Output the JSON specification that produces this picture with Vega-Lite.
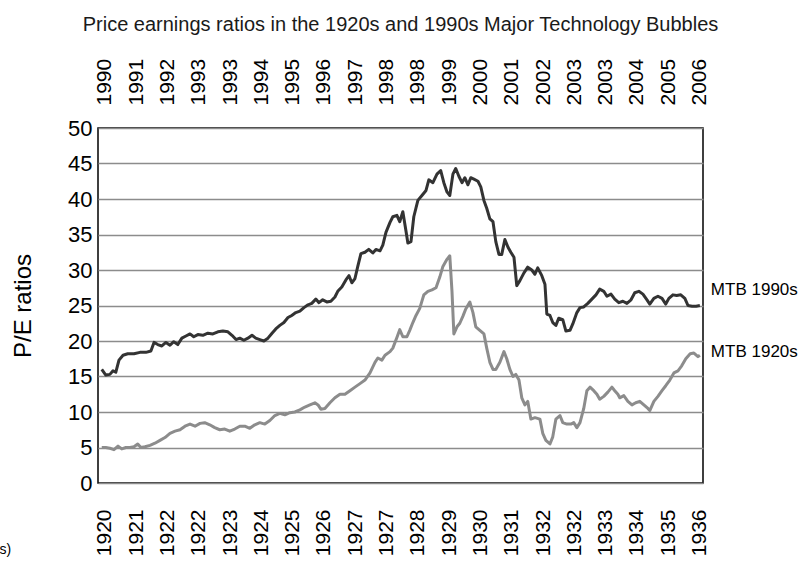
{
  "$schema": "https://vega.github.io/schema/vega-lite/v6.json",
  "width": 605,
  "height": 355,
  "autosize": {"type": "none"},
  "padding": {"left": 98, "top": 128, "right": 98, "bottom": 78},
  "background": "white",
  "title": {"text": "Price earnings ratios in the 1920s and 1990s Major Technology Bubbles", "font": "Liberation Sans", "fontSize": 20, "fontWeight": "normal", "color": "#1a1a1a", "anchor": "middle", "offset": 23},
  "config": {
    "view": {"stroke": "black", "strokeWidth": 1.5},
    "axis": {"ticks": false, "domain": false, "labelColor": "black", "titleColor": "black"}
  },
  "datasets": {
    "d1990": [
      {"m": -1.0, "pe": 16}, {"m": 0.3, "pe": 15.2}, {"m": 1.6, "pe": 15.3}, {"m": 2.6, "pe": 15.8}, {"m": 3.5, "pe": 15.6}, {"m": 4.5, "pe": 17.3}, {"m": 5.8, "pe": 18}, {"m": 7.3, "pe": 18.2}, {"m": 9.3, "pe": 18.2}, {"m": 11.2, "pe": 18.4}, {"m": 13.1, "pe": 18.4}, {"m": 14.7, "pe": 18.6}, {"m": 15.7, "pe": 19.8}, {"m": 16.9, "pe": 19.5}, {"m": 18.2, "pe": 19.3}, {"m": 19.5, "pe": 19.8}, {"m": 20.8, "pe": 19.4}, {"m": 22.0, "pe": 19.9}, {"m": 23.3, "pe": 19.5}, {"m": 24.6, "pe": 20.4}, {"m": 25.9, "pe": 20.7}, {"m": 27.2, "pe": 21}, {"m": 28.4, "pe": 20.6}, {"m": 29.7, "pe": 20.9}, {"m": 31.3, "pe": 20.8}, {"m": 32.9, "pe": 21.1}, {"m": 34.5, "pe": 21}, {"m": 36.1, "pe": 21.3}, {"m": 37.7, "pe": 21.4}, {"m": 39.3, "pe": 21.3}, {"m": 40.6, "pe": 20.8}, {"m": 41.9, "pe": 20.2}, {"m": 43.1, "pe": 20.4}, {"m": 44.4, "pe": 20.1}, {"m": 45.7, "pe": 20.4}, {"m": 47.0, "pe": 20.8}, {"m": 48.2, "pe": 20.4}, {"m": 49.5, "pe": 20.2}, {"m": 50.8, "pe": 20}, {"m": 52.1, "pe": 20.4}, {"m": 53.4, "pe": 21.1}, {"m": 54.6, "pe": 21.7}, {"m": 55.9, "pe": 22.2}, {"m": 57.2, "pe": 22.6}, {"m": 58.5, "pe": 23.3}, {"m": 59.7, "pe": 23.6}, {"m": 61.0, "pe": 24}, {"m": 62.3, "pe": 24.2}, {"m": 63.6, "pe": 24.7}, {"m": 64.9, "pe": 25.1}, {"m": 66.1, "pe": 25.3}, {"m": 67.4, "pe": 25.9}, {"m": 68.4, "pe": 25.4}, {"m": 69.6, "pe": 25.8}, {"m": 70.9, "pe": 25.5}, {"m": 72.2, "pe": 25.6}, {"m": 73.5, "pe": 26.2}, {"m": 74.4, "pe": 27}, {"m": 75.7, "pe": 27.6}, {"m": 77.0, "pe": 28.6}, {"m": 78.0, "pe": 29.2}, {"m": 78.9, "pe": 28.2}, {"m": 79.9, "pe": 28.8}, {"m": 80.8, "pe": 30.5}, {"m": 81.8, "pe": 32.3}, {"m": 83.1, "pe": 32.5}, {"m": 84.3, "pe": 32.9}, {"m": 85.6, "pe": 32.4}, {"m": 86.6, "pe": 32.9}, {"m": 87.9, "pe": 32.7}, {"m": 88.8, "pe": 33.5}, {"m": 89.8, "pe": 35.3}, {"m": 91.1, "pe": 36.7}, {"m": 92.0, "pe": 37.5}, {"m": 93.3, "pe": 37.7}, {"m": 94.2, "pe": 36.8}, {"m": 95.2, "pe": 38.2}, {"m": 96.2, "pe": 35.5}, {"m": 96.8, "pe": 33.8}, {"m": 97.8, "pe": 34}, {"m": 98.7, "pe": 37.5}, {"m": 100.0, "pe": 39.8}, {"m": 101.3, "pe": 40.5}, {"m": 102.6, "pe": 41.2}, {"m": 103.5, "pe": 42.7}, {"m": 104.8, "pe": 42.3}, {"m": 106.1, "pe": 43.5}, {"m": 107.3, "pe": 44}, {"m": 108.3, "pe": 42.3}, {"m": 109.3, "pe": 41}, {"m": 110.2, "pe": 40.5}, {"m": 111.2, "pe": 43.5}, {"m": 112.1, "pe": 44.3}, {"m": 113.1, "pe": 43.2}, {"m": 114.1, "pe": 42.3}, {"m": 115.0, "pe": 43}, {"m": 116.0, "pe": 42}, {"m": 116.9, "pe": 43}, {"m": 117.9, "pe": 42.8}, {"m": 119.2, "pe": 42.5}, {"m": 120.1, "pe": 41.7}, {"m": 121.1, "pe": 39.8}, {"m": 122.0, "pe": 38.7}, {"m": 123.0, "pe": 37.2}, {"m": 124.0, "pe": 36.8}, {"m": 124.9, "pe": 34}, {"m": 125.9, "pe": 32.2}, {"m": 126.8, "pe": 32.2}, {"m": 127.8, "pe": 34.3}, {"m": 128.8, "pe": 33.2}, {"m": 129.7, "pe": 32.5}, {"m": 130.7, "pe": 31.8}, {"m": 131.6, "pe": 27.8}, {"m": 132.6, "pe": 28.5}, {"m": 133.9, "pe": 29.6}, {"m": 135.1, "pe": 30.4}, {"m": 136.4, "pe": 30}, {"m": 137.4, "pe": 29.4}, {"m": 138.3, "pe": 30.3}, {"m": 139.6, "pe": 29.2}, {"m": 140.6, "pe": 28}, {"m": 141.2, "pe": 23.8}, {"m": 142.2, "pe": 23.6}, {"m": 143.1, "pe": 22.6}, {"m": 144.1, "pe": 22.2}, {"m": 145.0, "pe": 23.2}, {"m": 146.3, "pe": 23}, {"m": 147.3, "pe": 21.4}, {"m": 148.6, "pe": 21.5}, {"m": 149.5, "pe": 22.4}, {"m": 150.8, "pe": 24}, {"m": 151.8, "pe": 24.7}, {"m": 153.0, "pe": 24.8}, {"m": 154.3, "pe": 25.3}, {"m": 155.6, "pe": 25.9}, {"m": 156.9, "pe": 26.5}, {"m": 158.1, "pe": 27.3}, {"m": 159.4, "pe": 27}, {"m": 160.4, "pe": 26.3}, {"m": 161.7, "pe": 26.6}, {"m": 162.9, "pe": 25.9}, {"m": 164.2, "pe": 25.4}, {"m": 165.5, "pe": 25.6}, {"m": 166.8, "pe": 25.3}, {"m": 168.1, "pe": 25.8}, {"m": 169.3, "pe": 26.8}, {"m": 170.6, "pe": 27}, {"m": 171.9, "pe": 26.6}, {"m": 173.2, "pe": 25.8}, {"m": 174.1, "pe": 25.2}, {"m": 175.4, "pe": 26}, {"m": 176.7, "pe": 26.3}, {"m": 178.0, "pe": 26}, {"m": 179.2, "pe": 25.2}, {"m": 180.2, "pe": 26}, {"m": 181.5, "pe": 26.5}, {"m": 182.7, "pe": 26.4}, {"m": 184.0, "pe": 26.5}, {"m": 185.3, "pe": 26}, {"m": 186.3, "pe": 25}, {"m": 187.6, "pe": 24.9}, {"m": 188.9, "pe": 24.9}, {"m": 190.1, "pe": 25}
    ],
    "d1920": [
      {"m": -1.0, "pe": 5}, {"m": 0.3, "pe": 5}, {"m": 1.6, "pe": 4.9}, {"m": 2.9, "pe": 4.7}, {"m": 4.2, "pe": 5.2}, {"m": 5.4, "pe": 4.8}, {"m": 6.7, "pe": 5}, {"m": 8.0, "pe": 5}, {"m": 9.3, "pe": 5.1}, {"m": 10.5, "pe": 5.5}, {"m": 11.5, "pe": 5}, {"m": 12.8, "pe": 5.1}, {"m": 14.4, "pe": 5.3}, {"m": 16.0, "pe": 5.6}, {"m": 17.6, "pe": 6}, {"m": 19.2, "pe": 6.4}, {"m": 20.8, "pe": 7}, {"m": 22.4, "pe": 7.3}, {"m": 24.0, "pe": 7.5}, {"m": 25.6, "pe": 8}, {"m": 27.2, "pe": 8.3}, {"m": 28.8, "pe": 8}, {"m": 30.4, "pe": 8.4}, {"m": 31.9, "pe": 8.5}, {"m": 33.5, "pe": 8.2}, {"m": 35.1, "pe": 7.8}, {"m": 36.7, "pe": 7.5}, {"m": 38.3, "pe": 7.6}, {"m": 39.9, "pe": 7.3}, {"m": 41.5, "pe": 7.6}, {"m": 43.1, "pe": 8}, {"m": 44.7, "pe": 8}, {"m": 46.3, "pe": 7.7}, {"m": 47.9, "pe": 8.2}, {"m": 49.5, "pe": 8.5}, {"m": 51.1, "pe": 8.3}, {"m": 52.7, "pe": 8.8}, {"m": 54.3, "pe": 9.5}, {"m": 55.9, "pe": 9.8}, {"m": 57.5, "pe": 9.6}, {"m": 59.1, "pe": 9.9}, {"m": 60.7, "pe": 10}, {"m": 62.3, "pe": 10.3}, {"m": 63.9, "pe": 10.7}, {"m": 65.5, "pe": 11}, {"m": 67.1, "pe": 11.3}, {"m": 68.1, "pe": 11}, {"m": 69.0, "pe": 10.4}, {"m": 70.3, "pe": 10.5}, {"m": 71.9, "pe": 11.3}, {"m": 73.5, "pe": 12}, {"m": 75.1, "pe": 12.5}, {"m": 76.7, "pe": 12.5}, {"m": 78.3, "pe": 13}, {"m": 79.9, "pe": 13.5}, {"m": 81.5, "pe": 14}, {"m": 83.1, "pe": 14.5}, {"m": 84.7, "pe": 15.5}, {"m": 86.3, "pe": 17}, {"m": 87.2, "pe": 17.6}, {"m": 88.5, "pe": 17.3}, {"m": 89.5, "pe": 18}, {"m": 91.1, "pe": 18.5}, {"m": 92.0, "pe": 19}, {"m": 93.3, "pe": 20.5}, {"m": 94.2, "pe": 21.6}, {"m": 95.2, "pe": 20.6}, {"m": 96.5, "pe": 20.6}, {"m": 97.4, "pe": 21.5}, {"m": 98.4, "pe": 22.6}, {"m": 99.4, "pe": 23.6}, {"m": 100.6, "pe": 24.6}, {"m": 101.9, "pe": 26.5}, {"m": 103.2, "pe": 27}, {"m": 104.5, "pe": 27.2}, {"m": 105.8, "pe": 27.5}, {"m": 107.0, "pe": 29}, {"m": 108.0, "pe": 30.5}, {"m": 109.3, "pe": 31.5}, {"m": 110.2, "pe": 32}, {"m": 110.9, "pe": 27}, {"m": 111.5, "pe": 21}, {"m": 112.5, "pe": 22}, {"m": 113.4, "pe": 22.5}, {"m": 114.4, "pe": 23.5}, {"m": 115.3, "pe": 24.5}, {"m": 116.6, "pe": 25.5}, {"m": 117.6, "pe": 24}, {"m": 118.5, "pe": 22}, {"m": 119.8, "pe": 21.5}, {"m": 121.1, "pe": 21}, {"m": 122.0, "pe": 19}, {"m": 123.0, "pe": 17}, {"m": 124.0, "pe": 16}, {"m": 124.9, "pe": 16}, {"m": 126.2, "pe": 17}, {"m": 127.5, "pe": 18.5}, {"m": 128.4, "pe": 17.5}, {"m": 129.4, "pe": 16}, {"m": 130.4, "pe": 15}, {"m": 131.3, "pe": 15.3}, {"m": 132.3, "pe": 14.5}, {"m": 133.2, "pe": 12}, {"m": 134.2, "pe": 11}, {"m": 135.1, "pe": 11.5}, {"m": 136.1, "pe": 9}, {"m": 137.4, "pe": 9.2}, {"m": 139.0, "pe": 9}, {"m": 139.9, "pe": 7}, {"m": 140.9, "pe": 6}, {"m": 142.2, "pe": 5.5}, {"m": 143.1, "pe": 6.5}, {"m": 144.1, "pe": 9}, {"m": 145.4, "pe": 9.5}, {"m": 146.3, "pe": 8.5}, {"m": 147.6, "pe": 8.3}, {"m": 148.9, "pe": 8.3}, {"m": 149.8, "pe": 8.5}, {"m": 150.8, "pe": 7.8}, {"m": 151.8, "pe": 8.5}, {"m": 153.0, "pe": 10.5}, {"m": 154.0, "pe": 13}, {"m": 155.0, "pe": 13.5}, {"m": 156.2, "pe": 13}, {"m": 157.2, "pe": 12.5}, {"m": 158.1, "pe": 11.8}, {"m": 159.4, "pe": 12.2}, {"m": 160.7, "pe": 12.8}, {"m": 162.0, "pe": 13.5}, {"m": 162.9, "pe": 13}, {"m": 163.9, "pe": 12.5}, {"m": 164.5, "pe": 12}, {"m": 165.8, "pe": 12.3}, {"m": 167.1, "pe": 11.5}, {"m": 168.4, "pe": 11}, {"m": 169.6, "pe": 11.3}, {"m": 170.9, "pe": 11.5}, {"m": 172.2, "pe": 11}, {"m": 173.5, "pe": 10.5}, {"m": 174.1, "pe": 10.2}, {"m": 175.4, "pe": 11.5}, {"m": 176.7, "pe": 12.2}, {"m": 178.0, "pe": 13}, {"m": 179.2, "pe": 13.7}, {"m": 180.5, "pe": 14.5}, {"m": 181.8, "pe": 15.5}, {"m": 183.1, "pe": 15.8}, {"m": 184.3, "pe": 16.5}, {"m": 185.6, "pe": 17.5}, {"m": 187.0, "pe": 18.2}, {"m": 188.2, "pe": 18.3}, {"m": 189.5, "pe": 17.8}, {"m": 190.1, "pe": 18}
    ],
    "labels": [
      {"m": 190.1, "pe": 27.2, "t": "MTB 1990s"},
      {"m": 190.1, "pe": 18.5, "t": "MTB 1920s"}
    ]
  },
  "encoding": {
    "y": {
      "field": "pe", "type": "quantitative",
      "scale": {"domain": [0, 50], "nice": false, "zero": true},
      "axis": {
        "title": "P/E ratios", "values": [0, 5, 10, 15, 20, 25, 30, 35, 40, 45, 50],
        "labelFont": "Liberation Sans", "labelFontSize": 22, "labelPadding": 6,
        "titleFont": "Liberation Sans", "titleFontSize": 24, "titleFontWeight": "normal", "titlePadding": 32,
        "grid": true, "gridColor": "#8c8c8c", "gridWidth": 1.5
      }
    }
  },
  "layer": [
    {
      "data": {"name": "d1990"},
      "mark": {"type": "line", "color": "#333333", "strokeWidth": 3, "strokeJoin": "round"},
      "encoding": {
        "x": {
          "field": "m", "type": "quantitative",
          "scale": {"domain": [-2.2, 191.1], "nice": false, "zero": false},
          "axis": {
            "orient": "top", "title": null, "grid": false,
            "values": [0, 10, 20, 30, 40, 50, 60, 70, 80, 90, 100, 110, 120, 130, 140, 150, 160, 170, 180, 190],
            "labelExpr": "['1990','1991','1992','1993','1993','1994','1995','1996','1997','1998','1998','1999','2000','2001','2002','2003','2003','2004','2005','2006'][round(datum.value/10)]",
            "labelAngle": -90, "labelFont": "Liberation Sans", "labelFontSize": 21, "labelPadding": 23, "labelOverlap": false, "labelBound": false, "labelFlush": false
          }
        }
      }
    },
    {
      "data": {"name": "d1920"},
      "mark": {"type": "line", "color": "#8c8c8c", "strokeWidth": 3, "strokeJoin": "round"},
      "encoding": {
        "x": {
          "field": "m", "type": "quantitative",
          "scale": {"domain": [-2.2, 191.1], "nice": false, "zero": false},
          "axis": {
            "orient": "bottom", "grid": false,
            "title": "s)", "titleFont": "Liberation Sans", "titleFontSize": 14, "titleFontWeight": "normal",
            "titleAngle": 0, "titleAlign": "left", "titleBaseline": "middle", "titleX": -99, "titleY": 66,
            "values": [0, 10, 20, 30, 40, 50, 60, 70, 80, 90, 100, 110, 120, 130, 140, 150, 160, 170, 180, 190],
            "labelExpr": "['1920','1921','1922','1922','1923','1924','1925','1926','1927','1927','1928','1929','1930','1931','1932','1932','1933','1934','1935','1936'][round(datum.value/10)]",
            "labelAngle": -90, "labelFont": "Liberation Sans", "labelFontSize": 21, "labelPadding": 26, "labelOverlap": false, "labelBound": false, "labelFlush": false
          }
        }
      }
    },
    {
      "data": {"name": "labels"},
      "mark": {"type": "text", "align": "left", "baseline": "middle", "dx": 11, "font": "Liberation Sans", "fontSize": 17, "color": "black"},
      "encoding": {
        "x": {"field": "m", "type": "quantitative", "scale": {"domain": [-2.2, 191.1], "nice": false, "zero": false}, "axis": null},
        "text": {"field": "t"}
      }
    }
  ],
  "resolve": {"scale": {"x": "independent"}, "axis": {"x": "independent"}}
}
